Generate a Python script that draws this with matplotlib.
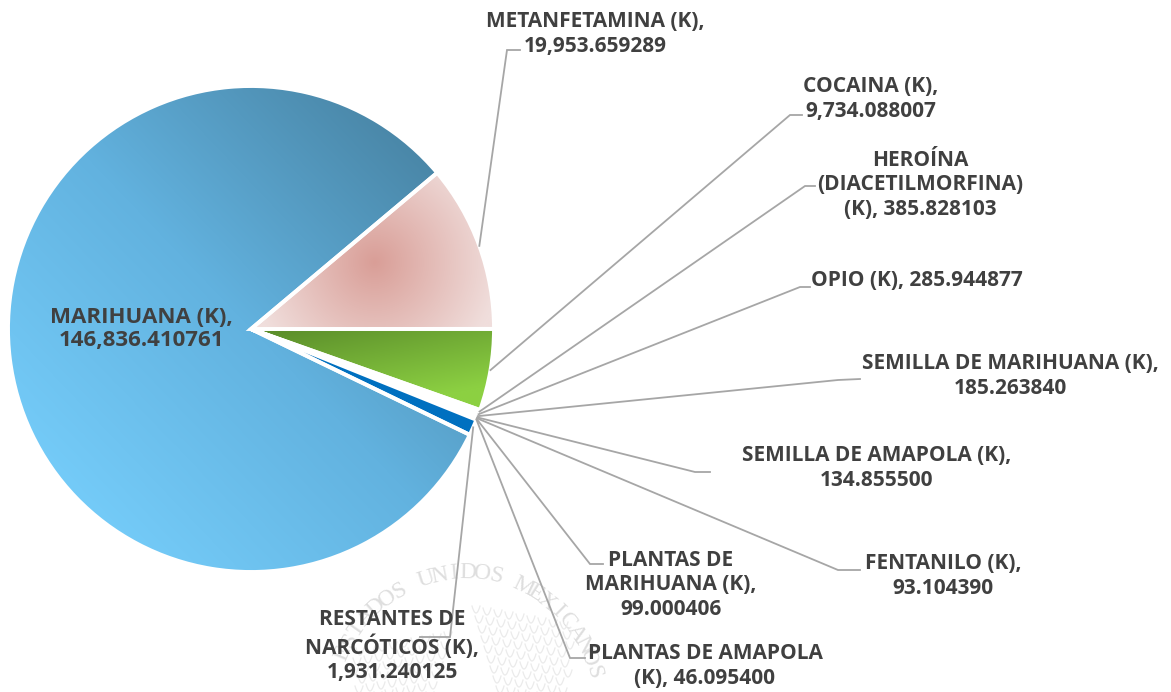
import numpy as np
import matplotlib
matplotlib.use("Agg")
import matplotlib.pyplot as plt
from matplotlib.colors import LinearSegmentedColormap as LSC

categories = ["METANFETAMINA (K)", "COCAINA (K)", "HEROÍNA (DIACETILMORFINA) (K)", "OPIO (K)",
              "SEMILLA DE MARIHUANA (K)", "SEMILLA DE AMAPOLA (K)", "FENTANILO (K)",
              "PLANTAS DE MARIHUANA (K)", "PLANTAS DE AMAPOLA (K)",
              "RESTANTES DE NARCÓTICOS (K)", "MARIHUANA (K)"]
values = [19953.659289, 9734.088007, 385.828103, 285.944877, 185.263840, 134.855500,
          93.104390, 99.000406, 46.095400, 1931.240125, 146836.410761]
label_texts = ["METANFETAMINA (K),\n19,953.659289", "COCAINA (K),\n9,734.088007",
               "HEROÍNA\n(DIACETILMORFINA)\n(K), 385.828103", "OPIO (K), 285.944877",
               "SEMILLA DE MARIHUANA (K),\n185.263840", "SEMILLA DE AMAPOLA (K),\n134.855500",
               "FENTANILO (K),\n93.104390", "PLANTAS DE\nMARIHUANA (K),\n99.000406",
               "PLANTAS DE AMAPOLA\n(K), 46.095400", "RESTANTES DE\nNARCÓTICOS (K),\n1,931.240125",
               "MARIHUANA (K),\n146,836.410761"]
label_xy = [(595, 34), (871, 99), (920, 185), (917, 281), (1010, 376), (877, 468),
            (943, 576), (671, 585), (705, 666), (392, 646), (141, 329)]
label_sizes = [15.0, 15.0, 15.0, 15.0, 15.0, 15.0, 15.0, 15.0, 15.0, 15.0, 16.0]
# leader: elbow point, end of the horizontal run (None = label sits on the slice)
elbows = [((507, 50), (520, 50)), ((790, 115), (802, 115)), ((805, 186), (815, 186)),
          ((800, 287), (810, 287)), ((838, 380), (860, 379)), ((695, 472), (710, 472)),
          ((838, 570), (860, 570)), ((590, 564), (603, 564)), ((570, 658), (585, 658)),
          ((450, 637), (420, 637)), None]

W, H = 1171, 692
cx, cy_px, R = 251, 329, 243
fig = plt.figure(figsize=(W / 100, H / 100), dpi=100, facecolor="white")
ax = fig.add_axes([0, 0, 1, 1])
Y = lambda p: H - p

# ---- faint emblem watermark
wm = "#ebebeb"
ecx, ecy, er = 465, 705, 132
word = "ESTADOS UNIDOS MEXICANOS"
for i, ch in enumerate(word):
    a = np.deg2rad(157 - i * 6.2)
    ax.text(ecx + er * np.cos(a), Y(ecy) + er * np.sin(a), ch, rotation=np.rad2deg(a) - 90,
            ha="center", va="center", color="#dedede", fontsize=17,
            family="Liberation Serif", zorder=0.5)
t = np.linspace(-1, 1, 15)
for row in range(9):
    for col in range(9 - row // 3):
        x0 = 476 + col * 11 + row * 3
        y0 = 606 + row * 10 + col * 2
        ax.plot(x0 + 4 * t, Y(y0 + 7 * (1 - t ** 2)), color=wm, lw=0.9, zorder=0.5)
        ax.plot(2 * 462 - x0 + 4 * t, Y(y0 + 26 + 7 * (1 - t ** 2)), color=wm, lw=0.9, zorder=0.5)

# ---- pie
wedges, _ = ax.pie(values, startangle=40, counterclock=False, center=(cx, Y(cy_px)), radius=R,
                   wedgeprops=dict(edgecolor="white", linewidth=2.8, zorder=2))
ext = (cx - R - 3, cx + R + 3, Y(cy_px) - R - 3, Y(cy_px) + R + 3)
gx, gy = np.meshgrid(np.linspace(ext[0], ext[1], 500), np.linspace(ext[2], ext[3], 500))

def fill(i, grad, cols):
    wedges[i].set_facecolor("none")
    im = ax.imshow(np.clip(grad, 0, 1), extent=ext, origin="lower", cmap=LSC.from_list("g", cols),
                   vmin=0, vmax=1, zorder=1, aspect="auto", interpolation="bilinear")
    im.set_clip_path(wedges[i])

marg = ((gx - cx) * 0.72 + (gy - Y(cy_px)) * 0.69) / R * 0.5 + 0.5
fill(10, marg, ["#74CBF8", "#62B2DF", "#4A87A8"])
pink = np.hypot(gx - 375, gy - Y(262)) / 125
fill(0, pink, ["#D99E97", "#F0DEDC"])
green = ((gx - 260) * 0.2 - (gy - Y(330)) * 0.98) / 100
fill(1, green, ["#5A8C2A", "#8CD042"])
wedges[9].set_facecolor("#0070C0")
for i in range(2, 9):
    wedges[i].set_facecolor("white")

# ---- leaders and labels
for i, (name, txt, xy, fs) in enumerate(zip(categories, label_texts, label_xy, label_sizes)):
    if elbows[i] is not None:
        w = wedges[i]
        mid = np.deg2rad((w.theta1 + w.theta2) / 2)
        sx, sy = cx + R * np.cos(mid), Y(cy_px) + R * np.sin(mid)
        (ex, ey), (fx, fy) = elbows[i]
        ax.plot([sx, ex, fx], [sy, Y(ey), Y(fy)], color="#A6A6A6", lw=1.3, zorder=3,
                solid_joinstyle="miter")
    ax.text(xy[0], Y(xy[1]), txt, ha="center", va="center", color="#404040", fontsize=fs,
            family="Open Sans", fontweight="bold", linespacing=1.2 * 15 / fs, zorder=4)

ax.set_xlim(0, W)
ax.set_ylim(0, H)
ax.set_aspect("auto")
ax.axis("off")
fig.savefig("out.png", dpi=100, facecolor="white")
